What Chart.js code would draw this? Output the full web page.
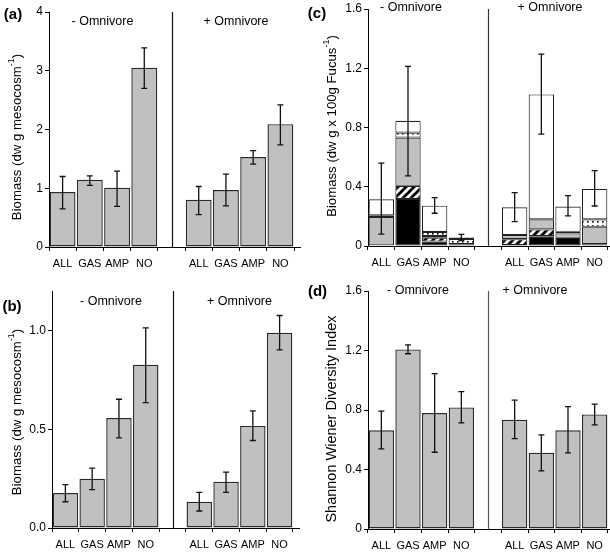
<!DOCTYPE html>
<html>
<head>
<meta charset="utf-8">
<script src="https://cdn.jsdelivr.net/npm/chart.js@4.4.1/dist/chart.umd.min.js"></script>
<style>
  html, body { margin: 0; padding: 0; background: #fff; }
  #wrap { position: relative; width: 610px; height: 553px; }
  #wrap canvas { position: absolute; }
</style>
</head>
<body>
<div id="wrap">
  <canvas id="chartA" width="305" height="276" style="left:0;top:0"></canvas>
  <canvas id="chartB" width="305" height="277" style="left:0;top:276px"></canvas>
  <canvas id="chartC" width="305" height="276" style="left:305px;top:0"></canvas>
  <canvas id="chartD" width="305" height="277" style="left:305px;top:276px"></canvas>
</div>
<script>
// index 4 is the empty slot between "- Omnivore" and "+ Omnivore"
const categories = ['ALL', 'GAS', 'AMP', 'NO', '', 'ALL', 'GAS', 'AMP', 'NO'];
const groupLabels = ['- Omnivore', '+ Omnivore'];

// (a) biomass, mean and error bar ends
const biomassA = [0.936, 1.146, 1.01, 3.05, null, 0.806, 0.97, 1.53, 2.09];
const biomassAHigh = [1.20, 1.21, 1.29, 3.39, null, 1.03, 1.24, 1.64, 2.42];
const biomassALow = [0.65, 1.05, 0.69, 2.70, null, 0.55, 0.70, 1.41, 1.74];

// (b) biomass
const biomassB = [0.177, 0.249, 0.557, 0.827, null, 0.133, 0.234, 0.517, 0.988];
const biomassBHigh = [0.220, 0.303, 0.652, 1.013, null, 0.180, 0.283, 0.593, 1.076];
const biomassBLow = [0.133, 0.194, 0.456, 0.635, null, 0.086, 0.180, 0.443, 0.902];

// (c) stacked biomass per 100g Fucus, bottom to top
const fucusBlack = [0.005, 0.318, 0.030, 0.012, null, 0.006, 0.066, 0.055, 0.012];
const fucusHatch = [0, 0.088, 0.026, 0, null, 0.040, 0.046, 0, 0];
const fucusGray = [0.190, 0.326, 0.012, 0, null, 0.028, 0.068, 0.030, 0.118];
const fucusDots = [0.012, 0.034, 0.027, 0.036, null, 0, 0, 0.011, 0.050];
const fucusWhite = [0.108, 0.079, 0.177, 0.010, null, 0.187, 0.843, 0.170, 0.205];
const fucusHigh = [0.559, 1.212, 0.326, 0.079, null, 0.360, 1.296, 0.340, 0.509];
const fucusLow = [0.080, 0.473, 0.221, 0.037, null, 0.164, 0.755, 0.203, 0.270];

// (d) Shannon Wiener diversity
const diversity = [0.664, 1.207, 0.779, 0.817, null, 0.734, 0.512, 0.664, 0.770];
const diversityHigh = [0.792, 1.238, 1.045, 0.924, null, 0.866, 0.633, 0.823, 0.839];
const diversityLow = [0.539, 1.178, 0.516, 0.714, null, 0.608, 0.391, 0.512, 0.700];

const FONT = "'Liberation Sans', Arial, sans-serif";
Chart.defaults.font.family = FONT;
Chart.defaults.color = '#000';

function hatchPattern() {
  const c = document.createElement('canvas');
  c.width = 8; c.height = 8;
  const g = c.getContext('2d');
  g.fillStyle = '#fff';
  g.fillRect(0, 0, 8, 8);
  g.strokeStyle = '#000';
  g.lineWidth = 2.8;
  g.beginPath();
  g.moveTo(-2, 2); g.lineTo(2, -2);
  g.moveTo(-2, 10); g.lineTo(10, -2);
  g.moveTo(6, 10); g.lineTo(10, 6);
  g.stroke();
  return g.createPattern(c, 'repeat');
}

function dotPattern() {
  const c = document.createElement('canvas');
  c.width = 5; c.height = 4;
  const g = c.getContext('2d');
  g.fillStyle = '#fff';
  g.fillRect(0, 0, 5, 4);
  g.fillStyle = '#000';
  g.fillRect(2, 1, 1.6, 1.6);
  return g.createPattern(c, 'repeat');
}

function drawYTitle(ctx, x, yc, main, sup, tail, size) {
  ctx.save();
  ctx.translate(x, yc);
  ctx.rotate(-Math.PI / 2);
  ctx.textBaseline = 'middle';
  ctx.textAlign = 'left';
  const big = size + 'px ' + FONT;
  const small = Math.round(size * 0.65) + 'px ' + FONT;
  ctx.font = big;
  const w1 = ctx.measureText(main).width;
  const w3 = ctx.measureText(tail).width;
  ctx.font = small;
  const w2 = sup ? ctx.measureText(sup).width : 0;
  let pos = -(w1 + w2 + w3) / 2;
  ctx.font = big;
  ctx.fillText(main, pos, 0);
  pos += w1;
  if (sup) {
    ctx.font = small;
    ctx.fillText(sup, pos, -size * 0.45);
    pos += w2;
  }
  ctx.font = big;
  ctx.fillText(tail, pos, 0);
  ctx.restore();
}

const panelPlugin = {
  id: 'panel',
  afterDatasetsDraw(chart, args, opts) {
    const { ctx, chartArea: area } = chart;
    const x = chart.scales.x, y = chart.scales.y;
    ctx.save();

    // error bars
    ctx.strokeStyle = '#111';
    ctx.lineWidth = 1.3;
    opts.high.forEach((hi, i) => {
      const lo = opts.low[i];
      if (hi == null) return;
      const px = x.getPixelForValue(i);
      const y1 = y.getPixelForValue(hi), y2 = y.getPixelForValue(lo);
      ctx.beginPath();
      ctx.moveTo(px, y1); ctx.lineTo(px, y2);
      ctx.moveTo(px - 3, y1); ctx.lineTo(px + 3, y1);
      ctx.moveTo(px - 3, y2); ctx.lineTo(px + 3, y2);
      ctx.stroke();
    });

    // divider between the two groups
    const dx = Math.round(x.getPixelForValue(4)) + 0.5;
    ctx.strokeStyle = opts.dividerColor;
    ctx.lineWidth = 1.2;
    ctx.beginPath();
    ctx.moveTo(dx, area.top);
    ctx.lineTo(dx, area.bottom);
    ctx.stroke();

    // axis lines
    ctx.strokeStyle = '#000';
    ctx.lineWidth = 1;
    const lx = Math.round(area.left) + 0.5, by = Math.round(area.bottom) + 0.5;
    ctx.beginPath();
    ctx.moveTo(lx, area.top);
    ctx.lineTo(lx, by);
    ctx.lineTo(area.right + opts.axisExtra, by);
    ctx.stroke();

    // group labels and panel letter
    ctx.fillStyle = '#000';
    ctx.textAlign = 'center';
    ctx.textBaseline = 'middle';
    ctx.font = '12.5px ' + FONT;
    ctx.fillText(groupLabels[0], opts.groupPos[0][0], opts.groupPos[0][1]);
    ctx.fillText(groupLabels[1], opts.groupPos[1][0], opts.groupPos[1][1]);
    ctx.font = 'bold 15px ' + FONT;
    ctx.fillText(opts.letter, opts.letterPos[0], opts.letterPos[1]);

    drawYTitle(ctx, opts.titlePos[0], opts.titlePos[1], opts.title[0], opts.title[1], opts.title[2], opts.titleSize);
    ctx.restore();
  }
};

function makePanel(id, p) {
  const canvas = document.getElementById(id);
  const H = canvas.height;
  return new Chart(canvas, {
    type: 'bar',
    data: { labels: categories, datasets: p.datasets },
    plugins: [panelPlugin],
    options: {
      responsive: false,
      animation: false,
      devicePixelRatio: 1,
      layout: { padding: { top: p.area.top, right: canvas.width - p.area.right, left: 0, bottom: 0 } },
      plugins: {
        legend: { display: false },
        tooltip: { enabled: false },
        panel: p.panel
      },
      scales: {
        x: {
          stacked: !!p.stacked,
          offset: true,
          border: { display: false },
          grid: { offset: true, drawOnChartArea: false, drawTicks: true, tickLength: 4, color: '#000' },
          ticks: { font: { size: 11 }, padding: 6, maxRotation: 0, autoSkip: false },
          afterFit: s => { s.height = H - p.area.bottom; s.paddingLeft = 0; s.paddingRight = 0; }
        },
        y: {
          stacked: !!p.stacked,
          min: 0,
          max: p.yMax,
          border: { display: false },
          grid: { drawOnChartArea: false, drawTicks: true, tickLength: 4, color: '#000' },
          ticks: { stepSize: p.yStep, includeBounds: false, font: { size: 12 }, padding: 2, callback: p.fmt },
          afterFit: s => { s.width = p.area.left; s.paddingTop = 0; s.paddingBottom = 0; }
        }
      }
    }
  });
}

const grayBar = data => ({
  data,
  backgroundColor: '#c0c0c0',
  borderColor: '#2a2a2a',
  borderWidth: 1.4,
  borderSkipped: false,
  barPercentage: 0.95,
  categoryPercentage: 1.0
});

const stackBar = (data, fill) => ({
  data,
  backgroundColor: fill,
  borderColor: '#222',
  borderWidth: 1.1,
  borderSkipped: false,
  barPercentage: 0.95,
  categoryPercentage: 1.0
});

const fmtOneDec = v => v === 0 ? '0' : v.toFixed(1);

makePanel('chartA', {
  datasets: [grayBar(biomassA)],
  area: { left: 49, right: 294, top: 12, bottom: 247 },
  yMax: 4, yStep: 1, fmt: v => String(v),
  panel: {
    high: biomassAHigh, low: biomassALow, dividerColor: '#111', axisExtra: 7,
    groupPos: [[102.5, 22], [236, 22]], letter: '(a)', letterPos: [13, 15],
    title: ['Biomass (dw g mesocosm', '-1', ')'], titlePos: [17, 137], titleSize: 13.2
  }
});

makePanel('chartB', {
  datasets: [grayBar(biomassB)],
  area: { left: 52, right: 293, top: 15, bottom: 252 },
  yMax: 1.2, yStep: 0.5, fmt: v => v.toFixed(1),
  panel: {
    high: biomassBHigh, low: biomassBLow, dividerColor: '#111', axisExtra: 7,
    groupPos: [[111, 26], [239.5, 26]], letter: '(b)', letterPos: [12, 31],
    title: ['Biomass (dw g mesocosm', '-1', ')'], titlePos: [17, 136], titleSize: 13.2
  }
});

makePanel('chartC', {
  stacked: true,
  datasets: [
    stackBar(fucusBlack, '#000'),
    stackBar(fucusHatch, hatchPattern()),
    stackBar(fucusGray, '#c0c0c0'),
    stackBar(fucusDots, dotPattern()),
    stackBar(fucusWhite, '#fff')
  ],
  area: { left: 63, right: 303, top: 9, bottom: 246 },
  yMax: 1.6, yStep: 0.4, fmt: fmtOneDec,
  panel: {
    high: fucusHigh, low: fucusLow, dividerColor: '#333', axisExtra: 7,
    groupPos: [[106, 7.5], [245, 7.5]], letter: '(c)', letterPos: [12, 14],
    title: ['Biomass (dw g x 100g Fucus', '-1', ')'], titlePos: [27, 126], titleSize: 13.2
  }
});

makePanel('chartD', {
  datasets: [grayBar(diversity)],
  area: { left: 63, right: 303, top: 15, bottom: 253 },
  yMax: 1.6, yStep: 0.4, fmt: fmtOneDec,
  panel: {
    high: diversityHigh, low: diversityLow, dividerColor: '#555', axisExtra: 7,
    groupPos: [[113, 15], [230, 15]], letter: '(d)', letterPos: [12.5, 16],
    title: ['Shannon Wiener Diversity Index', '', ''], titlePos: [27, 143], titleSize: 14.5
  }
});
</script>
</body>
</html>
